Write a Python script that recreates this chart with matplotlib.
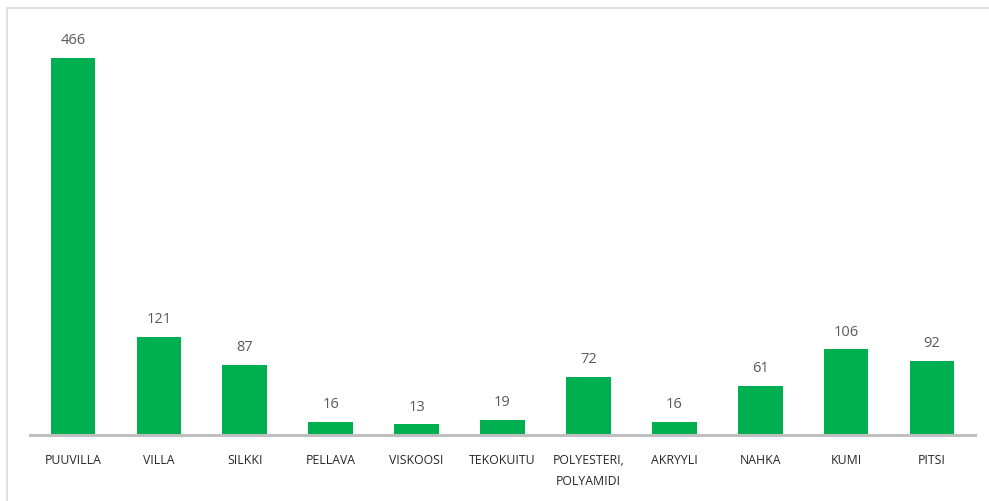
import matplotlib
matplotlib.use("Agg")
import matplotlib.pyplot as plt
from matplotlib.patches import Rectangle

categories = ["PUUVILLA", "VILLA", "SILKKI", "PELLAVA", "VISKOOSI", "TEKOKUITU",
              "POLYESTERI,\nPOLYAMIDI", "AKRYYLI", "NAHKA", "KUMI", "PITSI"]
values = [466, 121, 87, 16, 13, 19, 72, 16, 61, 106, 92]

W, H = 989, 501
fig = plt.figure(figsize=(W / 100, H / 100), dpi=100)
fig.patch.set_facecolor("white")

# outer border (chart area frame)
fig.patches.append(Rectangle((7 / W, -0.05), 1.2, (H - 8) / H + 0.05,
                             transform=fig.transFigure, fill=False,
                             edgecolor="#D9D9D9", linewidth=1.2))

ax_left, ax_right = 30, 975
ax_bottom, ax_top = 435, 30.5
ax = fig.add_axes([ax_left / W, 1 - ax_bottom / H,
                   (ax_right - ax_left) / W, (ax_bottom - ax_top) / H])

x = list(range(len(categories)))
bars = ax.bar(x, values, width=0.52, color="#00B050", zorder=2)
ax.set_xlim(-0.5, len(categories) - 0.5)
ax.set_ylim(0, 500)

for xi, v in zip(x, values):
    ax.annotate(str(v), (xi, v), xytext=(0, 7), textcoords="offset points",
                ha="center", va="bottom", fontsize=10.5, color="#595959",
                family="Open Sans")

for s in ["top", "right", "left"]:
    ax.spines[s].set_visible(False)
ax.spines["bottom"].set_color("#BFBFBF")
ax.spines["bottom"].set_linewidth(2.2)
ax.set_yticks([])
ax.set_xticks(x)
ax.set_xticklabels(categories, fontsize=8.8, family="Open Sans", color="#262626",
                   va="top", linespacing=1.75)
ax.tick_params(axis="x", length=0, pad=14)

fig.savefig("out.png", dpi=100)
